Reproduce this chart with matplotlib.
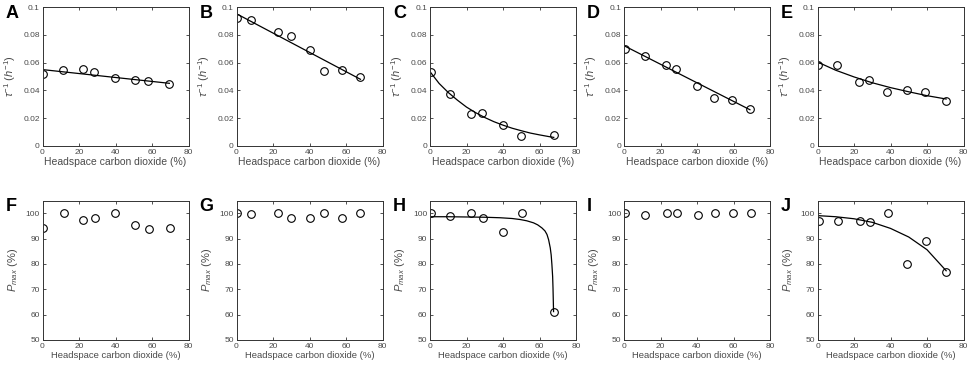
import matplotlib
matplotlib.use('Agg')
import matplotlib.pyplot as plt

plt.rcParams['font.family'] = ['Liberation Sans', 'DejaVu Sans']
plt.rcParams['mathtext.fontset'] = 'custom'
plt.rcParams['mathtext.it'] = 'Liberation Sans:italic'
plt.rcParams['mathtext.rm'] = 'Liberation Sans'

# top row: tau^-1 (h^-1)
a_x = [0.5, 11.5, 22, 28, 39.5, 50.5, 58, 69.5]
a_y = [0.052, 0.0546, 0.0551, 0.0532, 0.0488, 0.0476, 0.0471, 0.0446]
a_fit_x = [0.5, 69.5]
a_fit_y = [0.0549, 0.0451]

b_x = [0.5, 8.2, 22.8, 29.6, 40.5, 47.9, 57.7, 67.9]
b_y = [0.0924, 0.0905, 0.082, 0.079, 0.0693, 0.0537, 0.0546, 0.0493]
b_fit_x = [0.5, 67.9]
b_fit_y = [0.0948, 0.048]

c_x = [0.4, 10.7, 22.2, 28.7, 39.9, 50, 67.8]
c_y = [0.0532, 0.0371, 0.0232, 0.0234, 0.0149, 0.0071, 0.0076]
c_fit_x = [0.4, 5, 10, 15, 20, 25, 30, 35, 40, 45, 50, 55, 60, 65, 67.8]
c_fit_y = [0.0528, 0.045, 0.0385, 0.033, 0.028, 0.024, 0.0205, 0.0175,
           0.015, 0.0128, 0.011, 0.0093, 0.008, 0.0068, 0.0062]

d_x = [0.7, 11.5, 23.1, 28.6, 39.9, 49.4, 59, 69]
d_y = [0.070, 0.0651, 0.0583, 0.0554, 0.0432, 0.0344, 0.0332, 0.0266]
d_fit_x = [0.7, 69]
d_fit_y = [0.0717, 0.0261]

e_x = [0.4, 10.8, 22.6, 28.3, 38.3, 48.8, 59.1, 70.5]
e_y = [0.058, 0.058, 0.0459, 0.0476, 0.0385, 0.040, 0.0385, 0.0324]
e_fit_x = [0.4, 10, 20, 30, 40, 50, 60, 70.5]
e_fit_y = [0.0602, 0.0545, 0.0497, 0.0455, 0.042, 0.039, 0.0362, 0.0338]

# bottom row: P_max (%)
f_x = [0.5, 11.7, 22.3, 28.6, 39.9, 50.7, 58.6, 70]
f_y = [94.3, 99.9, 97.4, 98.2, 99.9, 95.4, 93.7, 94.1]

g_x = [0.5, 8.2, 22.8, 29.6, 40.5, 47.7, 57.7, 67.9]
g_y = [100, 99.7, 100, 98, 98, 100, 98, 100]

h_x = [0.7, 11, 22.5, 28.9, 40.1, 50.2, 67.9]
h_y = [100, 99, 100, 98, 92.5, 100, 61.1]
h_fit_x = [0.7, 10, 20, 30, 38.4, 45, 49.4, 53, 56.7, 59, 61.3, 63, 64.1,
           65, 65.9, 66.4, 66.8, 67.2, 67.4, 67.7]
h_fit_y = [98.6, 98.6, 98.5, 98.4, 98.2, 97.9, 97.5, 97.0, 96.2, 95.4, 94.2,
           93.0, 91.6, 89.5, 86.3, 83.5, 79.7, 75.0, 70.5, 61.2]

i_x = [0.7, 11.7, 23.6, 28.9, 40.3, 49.8, 59.5, 69.4]
i_y = [100, 99.3, 100, 100, 99.3, 100, 100, 100]

j_x = [0.9, 11.5, 23.1, 28.7, 38.7, 48.9, 59.3, 70.5]
j_y = [97, 97, 97, 96.6, 100, 80, 89.1, 77]
j_fit_x = [0.9, 10, 20, 30, 40, 50, 60, 70.5]
j_fit_y = [99, 98.6, 97.8, 96.4, 94, 90.6, 85.6, 77.3]

top = [('A', a_x, a_y, a_fit_x, a_fit_y), ('B', b_x, b_y, b_fit_x, b_fit_y),
       ('C', c_x, c_y, c_fit_x, c_fit_y), ('D', d_x, d_y, d_fit_x, d_fit_y),
       ('E', e_x, e_y, e_fit_x, e_fit_y)]
bottom = [('F', f_x, f_y, None, None), ('G', g_x, g_y, None, None),
          ('H', h_x, h_y, h_fit_x, h_fit_y), ('I', i_x, i_y, None, None),
          ('J', j_x, j_y, j_fit_x, j_fit_y)]

W, H = 975, 370
fig = plt.figure(figsize=(W / 100, H / 100), dpi=100)
lefts = [42.5, 236.5, 430, 624, 817.5]
axw = 146
gray = '#4a4a4a'


def panel(left, top_px, bot_px, letter, x, y, fx, fy, is_top):
    ax = fig.add_axes([left / W, 1 - bot_px / H, axw / W, (bot_px - top_px) / H])
    if fx is not None:
        ax.plot(fx, fy, color='black', lw=0.9)
    ax.plot(x, y, 'o', mfc='none', mec='black', ms=5.5, mew=0.8)
    ax.set_xlim(0, 80)
    ax.set_xticks([0, 20, 40, 60, 80])
    if is_top:
        ax.set_ylim(0, 0.1)
        ax.set_yticks([0, 0.02, 0.04, 0.06, 0.08, 0.1])
        ax.set_yticklabels(['0', '0.02', '0.04', '0.06', '0.08', '0.1'])
        ax.set_ylabel(r'$\tau^{-1}\ (h^{-1})$', color=gray, fontsize=8, labelpad=4)
        ax.set_xlabel('Headspace carbon dioxide (%)', color=gray, fontsize=7.5, labelpad=1)
    else:
        ax.set_ylim(50, 105)
        ax.set_yticks([50, 60, 70, 80, 90, 100])
        ax.set_ylabel(r'$P_{max}\ (\%)$', color=gray, fontsize=8, labelpad=4)
        ax.set_xlabel('Headspace carbon dioxide (%)', color=gray, fontsize=6.8, labelpad=1)
    ax.tick_params(direction='in', length=2.5, width=0.6, labelsize=6,
                   labelcolor=gray, color='#333333', top=True, right=True, pad=2)
    for s in ax.spines.values():
        s.set_color('#333333')
        s.set_linewidth(0.7)
    fig.text((left - 37) / W, 1 - (top_px + 6) / H, letter, fontsize=13,
             fontweight='bold', va='center', ha='left')


for k, (letter, x, y, fx, fy) in enumerate(top):
    panel(lefts[k], 7, 146, letter, x, y, fx, fy, True)
for k, (letter, x, y, fx, fy) in enumerate(bottom):
    panel(lefts[k], 200.5, 340, letter, x, y, fx, fy, False)

fig.savefig('out.png', dpi=100)
